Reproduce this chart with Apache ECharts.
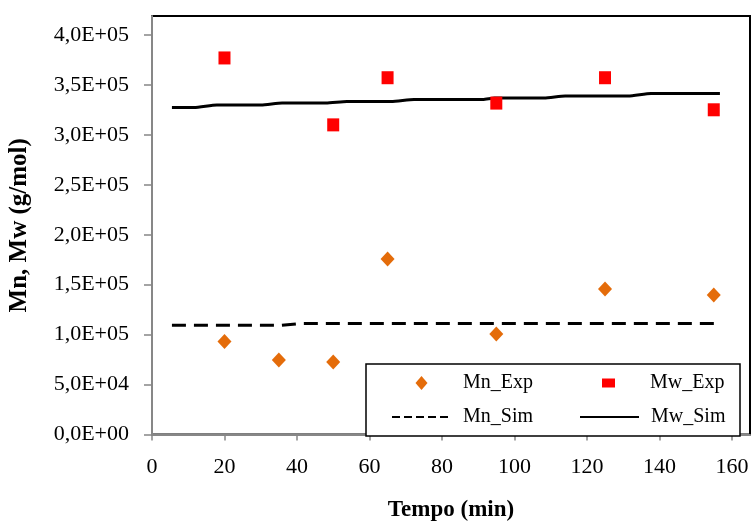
<!DOCTYPE html>
<html>
<head>
<meta charset="utf-8">
<script src="https://cdn.jsdelivr.net/npm/echarts@6/dist/echarts.min.js"></script>
<style>html,body{margin:0;padding:0;background:#fff}#c{width:752px;height:522px}</style>
</head>
<body>
<div id="c"></div>
<script>
// ---- data ----
const xTicks = [0, 20, 40, 60, 80, 100, 120, 140, 160];
const yTicks = [0, 50000, 100000, 150000, 200000, 250000, 300000, 350000, 400000];
const mnExpTime = [20, 35, 50, 65, 95, 125, 155];
const mnExpVal = [93000, 74500, 72600, 175700, 100600, 145600, 139600];
const mwExpTime = [20, 50, 65, 95, 125, 155];
const mwExpVal = [377000, 310000, 357200, 331800, 357200, 325100];
const mnSimTime = [5.5, 35.5, 41, 156.7];
const mnSimVal = [109300, 109300, 111200, 111200];
const mwSimTime = [5.5, 11.6, 17.9, 30.1, 35.9, 48, 53.8, 66, 72.3, 91.3, 94.5, 108.2, 114, 131.4, 137.7, 156.7];
const mwSimVal = [327500, 327500, 330000, 330000, 332000, 332000, 333500, 333500, 335500, 335500, 337000, 337000, 339000, 339000, 341500, 341500];

const pair = (xs, ys) => xs.map((x, i) => [x, ys[i]]);
const serif = 'Liberation Serif';
function sci(v) {
  if (v === 0) return '0,0E+00';
  const e = Math.floor(Math.log10(v) + 1e-9);
  const m = v / Math.pow(10, e);
  return m.toFixed(1).replace('.', ',') + 'E+' + String(e).padStart(2, '0');
}
// legend icons: invisible moveTo corners keep the glyph at its own size inside the icon box
const diamondIcon = 'path://M0,0M59,14M29.5,0L35.5,7L29.5,14L23.5,7Z';
const squareIcon = 'path://M0,0M59,14M23,2.5L36,2.5L36,11.5L23,11.5Z';

const chart = echarts.init(document.getElementById('c'));
chart.setOption({
  animation: false,
  backgroundColor: '#fff',
  grid: { left: 152, top: 16, right: 2, bottom: 87.5, outerBoundsMode: 'none', containLabel: false,
    show: true, borderColor: '#000', borderWidth: 2, backgroundColor: 'transparent' },
  xAxis: {
    type: 'value', min: 0, max: 165, interval: 20,
    name: 'Tempo (min)', nameLocation: 'middle', nameGap: 64,
    nameTextStyle: { fontFamily: serif, fontWeight: 'bold', fontSize: 23, color: '#000' },
    axisLine: { show: true, onZero: false, lineStyle: { color: '#878787', width: 2 } },
    axisTick: { show: true, inside: false, length: 6, customValues: xTicks, lineStyle: { color: '#878787', width: 1.5 } },
    axisLabel: { customValues: xTicks, margin: 22, fontFamily: serif, fontSize: 22, color: '#000' },
    splitLine: { show: false }
  },
  yAxis: {
    type: 'value', min: 0, max: 419000, interval: 50000,
    name: 'Mn, Mw (g/mol)', nameLocation: 'middle', nameGap: 120,
    nameTextStyle: { fontFamily: serif, fontWeight: 'bold', fontSize: 25, color: '#000' },
    axisLine: { show: true, onZero: false, lineStyle: { color: '#878787', width: 2 } },
    axisTick: { show: true, inside: false, length: 8, customValues: yTicks, lineStyle: { color: '#878787', width: 1.5 } },
    axisLabel: { customValues: yTicks, margin: 23, fontFamily: serif, fontSize: 22, color: '#000', formatter: sci },
    splitLine: { show: false }
  },
  legend: {
    left: 366, top: 364, width: 340,
    orient: 'horizontal',
    padding: [9, 11, 9, 25],
    itemWidth: 59, itemHeight: 14, itemGap: 14,
    symbolKeepAspect: true,
    backgroundColor: '#fff', borderColor: '#000', borderWidth: 1.5,
    textStyle: { fontFamily: serif, fontSize: 20, color: '#000', lineHeight: 14, padding: [0, 0, 0, 7] },
    data: [
      { name: 'Mn_Exp', icon: diamondIcon, textStyle: { width: 102 } },
      { name: 'Mw_Exp', icon: squareIcon, textStyle: { width: 78 } },
      { name: 'Mn_Sim', textStyle: { width: 102 }, lineStyle: { type: [8, 4], width: 2 }, itemStyle: { opacity: 0 } },
      { name: 'Mw_Sim', textStyle: { width: 78 }, lineStyle: { width: 2 }, itemStyle: { opacity: 0 } }
    ]
  },
  series: [
    { name: 'Mn_Sim', type: 'line', data: pair(mnSimTime, mnSimVal), showSymbol: false, symbol: 'none', smooth: false,
      lineStyle: { color: '#000', width: 3, type: [14, 8] }, itemStyle: { color: '#000' }, z: 2 },
    { name: 'Mw_Sim', type: 'line', data: pair(mwSimTime, mwSimVal), showSymbol: false, symbol: 'none', smooth: 0.2, smoothMonotone: 'x',
      lineStyle: { color: '#000', width: 3 }, itemStyle: { color: '#000' }, z: 2 },
    { name: 'Mn_Exp', type: 'scatter', data: pair(mnExpTime, mnExpVal), symbol: 'diamond', symbolSize: [14, 15],
      itemStyle: { color: '#E46C0A', opacity: 1 }, z: 3 },
    { name: 'Mw_Exp', type: 'scatter', data: pair(mwExpTime, mwExpVal), symbol: 'rect', symbolSize: [12, 13],
      itemStyle: { color: '#FF0000', opacity: 1 }, z: 3 }
  ]
});
</script>
</body>
</html>
